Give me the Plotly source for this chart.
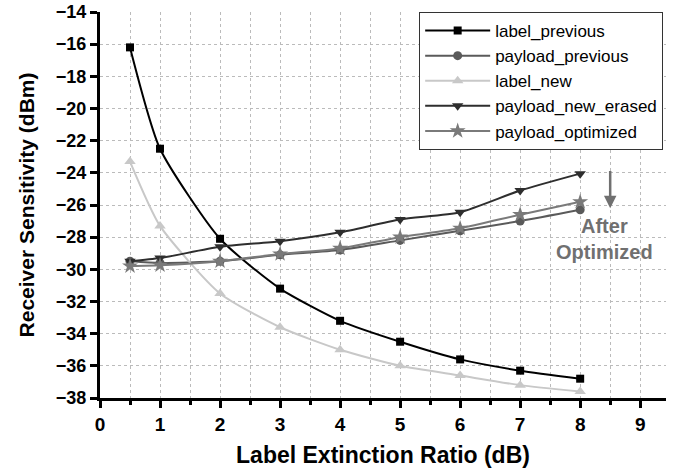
import plotly.graph_objects as go

x_vals = [0.5, 1, 2, 3, 4, 5, 6, 7, 8]
label_previous = [-16.2, -22.5, -28.1, -31.2, -33.2, -34.5, -35.6, -36.3, -36.8]
payload_previous = [-29.5, -29.6, -29.5, -29.1, -28.8, -28.2, -27.6, -27.0, -26.3]
label_new = [-23.3, -27.3, -31.5, -33.6, -35.0, -36.0, -36.6, -37.2, -37.6]
payload_new_erased = [-29.5, -29.3, -28.6, -28.25, -27.7, -26.9, -26.45, -25.1, -24.05]
payload_optimized = [-29.8, -29.75, -29.5, -29.05, -28.7, -28.0, -27.45, -26.6, -25.8]

series = [
    ("label_previous", label_previous, "#000000", "square", 8),
    ("payload_previous", payload_previous, "#5a5a5a", "circle", 9),
    ("label_new", label_new, "#c8c8c8", "triangle-up", 10),
    ("payload_new_erased", payload_new_erased, "#2e2e2e", "triangle-down", 10),
    ("payload_optimized", payload_optimized, "#7a7a7a", "star", 12),
]

fig = go.Figure()
for name, ys, col, sym, sz in series:
    fig.add_trace(go.Scatter(
        x=x_vals, y=ys, name=name, mode="lines+markers",
        line=dict(color=col, width=2, shape="spline", smoothing=0.6),
        marker=dict(symbol=sym, size=sz, color=col),
    ))

font_family = "Liberation Sans, Arial, sans-serif"
xr = [0, 9.43]
yr = [-38, -14]

fig.update_layout(
    width=684, height=468,
    margin=dict(l=100, r=18, t=12, b=70),
    paper_bgcolor="white", plot_bgcolor="white",
    font=dict(family=font_family, color="black"),
    showlegend=True,
    legend=dict(
        x=0.995, y=1.0, xanchor="right", yanchor="top",
        bgcolor="white", bordercolor="#333333", borderwidth=1,
        font=dict(size=17, family=font_family, color="black"),
        itemwidth=65, tracegroupgap=0,
    ),
    xaxis=dict(
        range=xr, dtick=1, tick0=0, showline=True, linewidth=3, linecolor="black",
        ticks="outside", ticklen=7, tickwidth=3, tickcolor="black", automargin=False,
        tickfont=dict(size=19, family=font_family, color="black", weight="bold"),
        showgrid=True, gridcolor="#bbbbbb", griddash="dot", gridwidth=1,
        minor=dict(dtick=0.5, ticks="outside", ticklen=4, tickwidth=3, tickcolor="black",
                   showgrid=True, gridcolor="#bbbbbb", griddash="dot", gridwidth=1),
        zeroline=False,
        title=dict(text="<b>Label Extinction Ratio (dB)</b>", font=dict(size=23, family=font_family), standoff=14),
    ),
    yaxis=dict(
        range=yr, dtick=2, tick0=-38, showline=True, linewidth=3, linecolor="black",
        ticks="outside", ticklen=7, tickwidth=3, tickcolor="black", automargin=False,
        tickfont=dict(size=18, family=font_family, color="black", weight="bold"),
        showgrid=True, gridcolor="#bbbbbb", griddash="dot", gridwidth=1,
        zeroline=False,
        title=dict(text="<b>Receiver Sensitivity (dBm)</b>", font=dict(size=21, family=font_family), standoff=16),
    ),
    xaxis2=dict(
        range=xr, overlaying="x", side="top", anchor="y", dtick=1, tick0=0,
        showline=True, linewidth=3, linecolor="black", automargin=False,
        ticks="inside", ticklen=7, tickwidth=3, tickcolor="black",
        showticklabels=False, showgrid=False, zeroline=False,
        minor=dict(dtick=0.5, ticks="inside", ticklen=4, tickwidth=3, tickcolor="black"),
    ),
    yaxis2=dict(
        range=yr, overlaying="y", side="right", anchor="x", dtick=2, tick0=-38,
        showline=True, linewidth=3, linecolor="black", automargin=False,
        ticks="inside", ticklen=7, tickwidth=3, tickcolor="black",
        showticklabels=False, showgrid=False, zeroline=False,
    ),
)

fig.add_annotation(
    x=8.5, y=-26.2, ax=8.5, ay=-23.8, xref="x", yref="y", axref="x", ayref="y",
    showarrow=True, arrowhead=2, arrowsize=1, arrowwidth=2.5, arrowcolor="#707070", text="",
)
fig.add_annotation(
    x=8.4, y=-28.1, xref="x", yref="y", showarrow=False,
    text="<b>After<br>Optimized</b>", align="center",
    font=dict(size=20, family=font_family, color="#707070"),
)

fig.write_html("out.html")
